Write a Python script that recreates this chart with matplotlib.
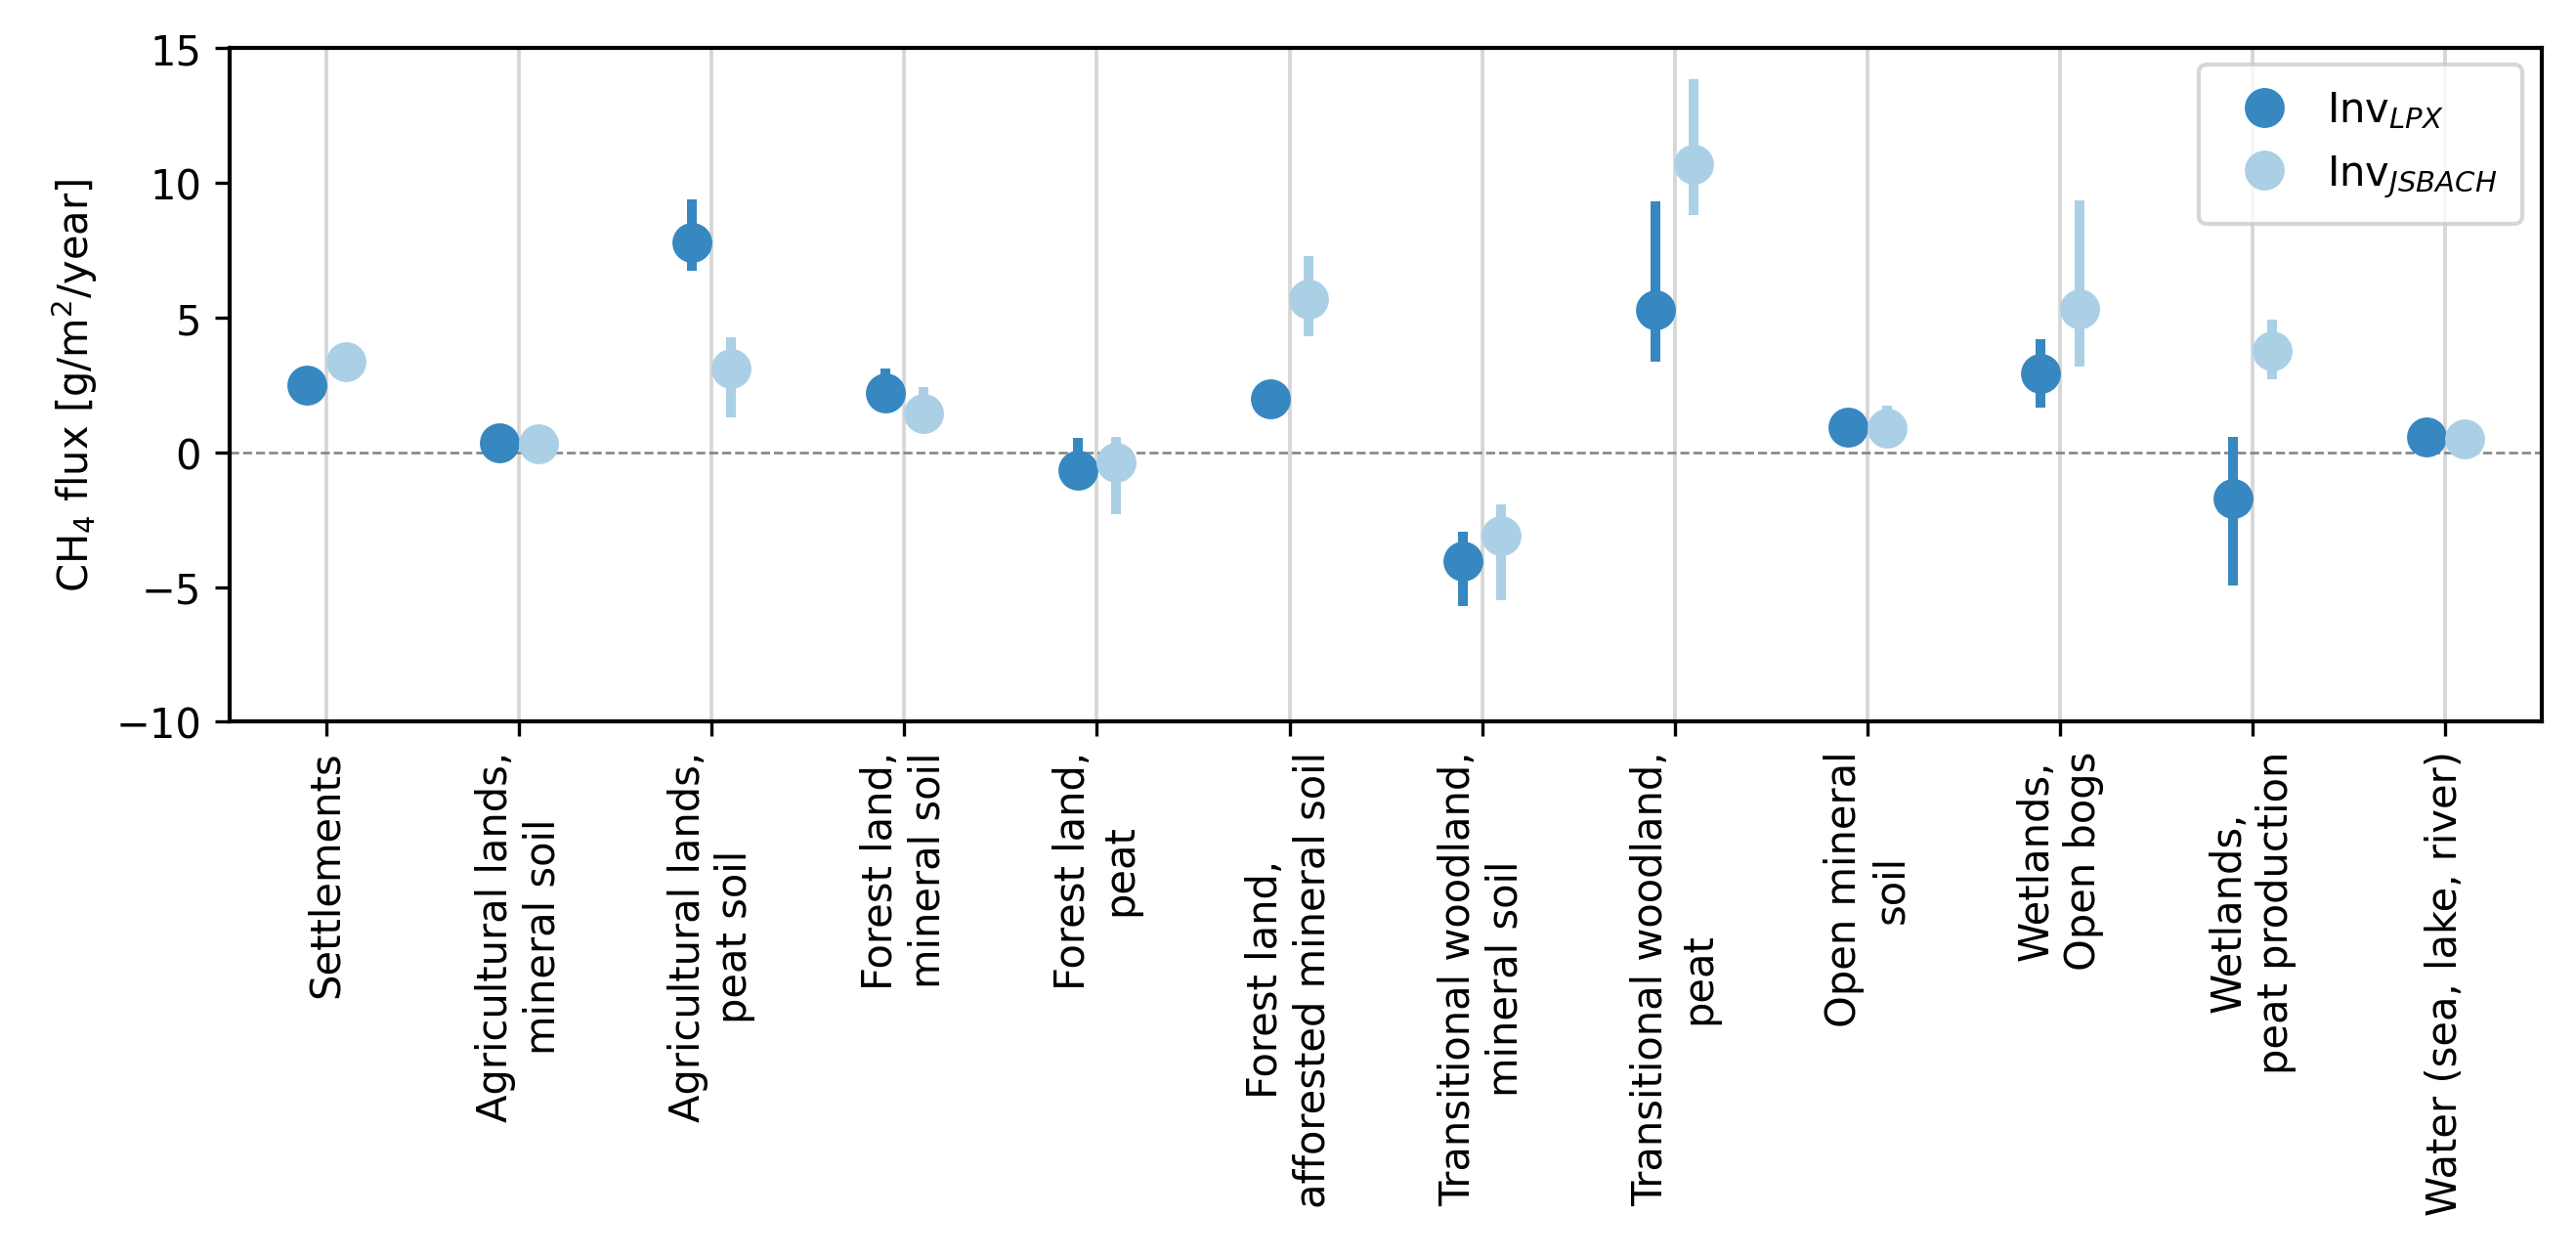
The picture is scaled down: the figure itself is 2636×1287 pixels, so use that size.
import matplotlib.pyplot as plt
import numpy as np

categories = ['Settlements', 'Agricultural lands,\nmineral soil', 'Agricultural lands,\npeat soil',
              'Forest land,\nmineral soil', 'Forest land,\npeat', 'Forest land,\nafforested mineral soil',
              'Transitional woodland,\nmineral soil', 'Transitional woodland,\npeat', 'Open mineral\nsoil',
              'Wetlands,\nOpen bogs', 'Wetlands,\npeat production', 'Water (sea, lake, river)']

lpx = [2.5, 0.35, 7.8, 2.2, -0.65, 2.0, -4.05, 5.3, 0.95, 2.93, -1.7, 0.58]
lpx_low = [2.5, 0.35, 6.75, 2.0, -1.4, 2.0, -5.7, 3.35, 0.95, 1.66, -4.96, 0.58]
lpx_high = [2.5, 0.35, 9.4, 3.1, 0.53, 2.0, -2.95, 9.3, 0.95, 4.2, 0.58, 0.58]

jsb = [3.38, 0.3, 3.1, 1.45, -0.39, 5.68, -3.1, 10.7, 0.89, 5.31, 3.77, 0.51]
jsb_low = [3.38, -0.1, 1.3, 1.0, -2.28, 4.3, -5.47, 8.8, 0.7, 3.2, 2.7, 0.51]
jsb_high = [3.38, 1.0, 4.26, 2.42, 0.58, 7.27, -1.93, 13.84, 1.72, 9.34, 4.92, 0.51]

c_lpx = '#3787c0'
c_jsb = '#abd0e6'

x = np.arange(len(categories))

fig = plt.figure(figsize=(8.787, 4.293), dpi=300)
ax = fig.add_axes([0.0893, 0.426, 0.8973, 0.535])

for xi in x:
    ax.axvline(xi, color='#d6d6d6', lw=0.9, zorder=0)
ax.axhline(0, color='grey', lw=0.6, ls='--', zorder=0)

lpx = np.array(lpx)
jsb = np.array(jsb)
err_lpx = [lpx - np.array(lpx_low), np.array(lpx_high) - lpx]
err_jsb = [jsb - np.array(jsb_low), np.array(jsb_high) - jsb]

ax.errorbar(x - 0.1, lpx, yerr=err_lpx, fmt='o', color=c_lpx, ms=8.8, elinewidth=2.4,
            capsize=0, label='Inv$_{LPX}$', zorder=3)
ax.errorbar(x + 0.1, jsb, yerr=err_jsb, fmt='o', color=c_jsb, ms=8.8, elinewidth=2.4,
            capsize=0, label='Inv$_{JSBACH}$', zorder=3)

ax.set_xlim(-0.5, 11.5)
ax.set_ylim(-10, 15)
ax.set_yticks([-10, -5, 0, 5, 10, 15])
ax.set_xticks(x)
ax.set_xticklabels(categories, rotation=90, fontsize=10)
ax.tick_params(axis='y', labelsize=10)
ax.set_ylabel('CH$_4$ flux [g/m$^2$/year]', fontsize=10)
for s in ax.spines.values():
    s.set_linewidth(1.0)

handles, labels = ax.get_legend_handles_labels()
handles = [h[0] for h in handles]
ax.legend(handles, labels, loc='upper right', fontsize=10, borderpad=0.6,
          labelspacing=0.55, handletextpad=0.55, borderaxespad=0,
          bbox_to_anchor=(0.9915, 0.9756))

fig.savefig('out.png', dpi=300)
